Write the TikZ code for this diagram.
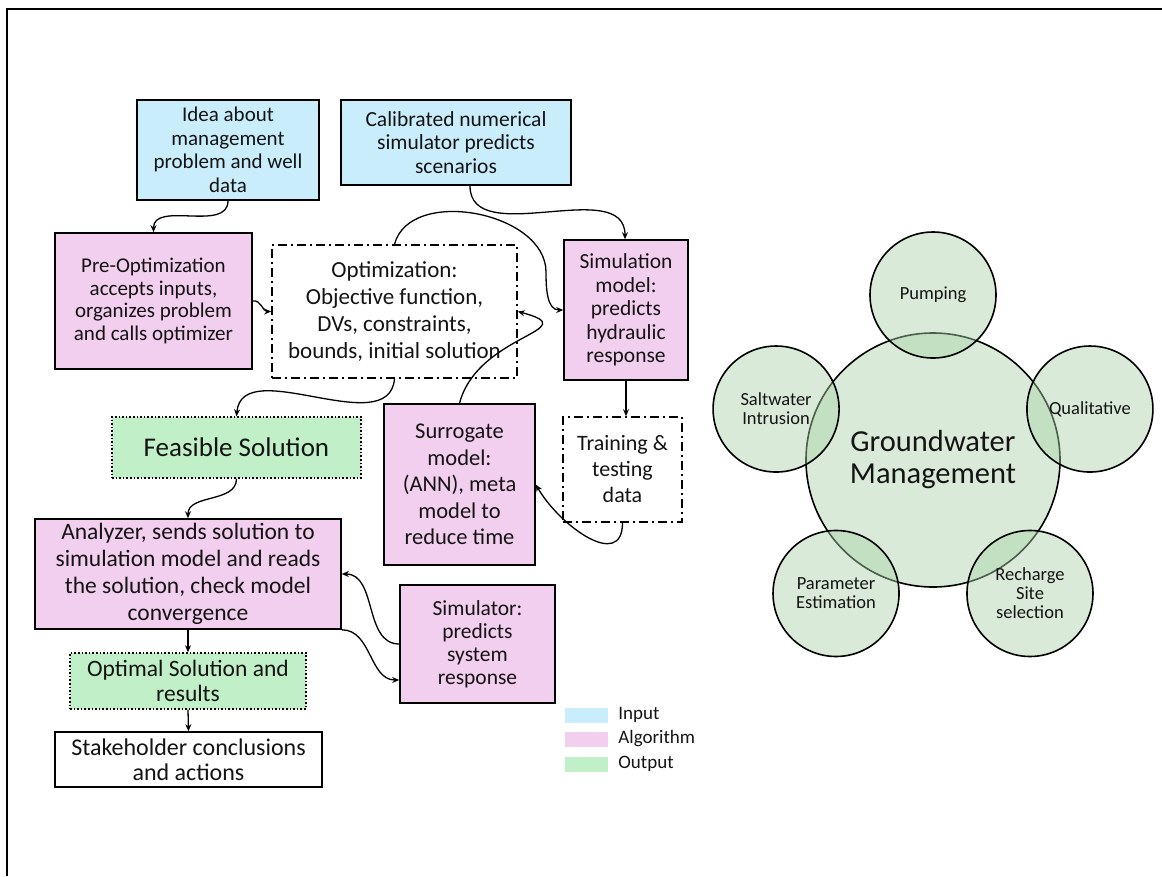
\documentclass[tikz,border=0pt]{standalone}
\usepackage{fontspec}
\setmainfont{Carlito}
\usetikzlibrary{arrows.meta,calc}
\definecolor{cin}{HTML}{CAEDFB}
\definecolor{calg}{HTML}{F2CEEF}
\definecolor{cout}{HTML}{C1F0C8}
\definecolor{cgw}{RGB}{170,210,168}
\newcommand{\fsz}[2]{\fontsize{#1}{#2}\selectfont}
\begin{document}
\begin{tikzpicture}[x=1pt,y=1pt,
 box/.style={draw=black,line width=1.6pt,align=center,inner sep=0pt,text=black!92},
 inbox/.style={box,fill=cin},
 algbox/.style={box,fill=calg},
 outbox/.style={box,fill=cout,dotted,line width=1.4pt},
 ddbox/.style={box,fill=white,dash pattern=on 9pt off 4pt on 2pt off 4pt},
 conn/.style={line width=1.3pt,-{Stealth[length=7pt,width=6pt]}},
 gwc/.style={circle,draw=black,line width=1.6pt,fill=cgw,fill opacity=0.45,text opacity=1,text=black!92,align=center,inner sep=0pt},
 sat/.style={gwc,minimum size=126pt,font=\fsz{18.5}{19}},
 legsw/.style={minimum width=43pt,minimum height=15pt,inner sep=0pt},
 legtx/.style={anchor=west,inner sep=0pt,text=black!92,font=\fsz{19}{22}},
]
\useasboundingbox (0,0) rectangle (1162,-876);
\draw[line width=2pt] (7,-876) -- (7,-9) -- (1162,-9);

% boxes
\node[inbox,minimum width=182pt,minimum height=100pt,font=\fsz{21}{23.5}] (idea) at (228,-150) {Idea about\\management\\problem and well\\data};
\node[inbox,minimum width=230pt,minimum height=85pt,font=\fsz{21.5}{23.5}] (calib) at (456,-142.5) {Calibrated numerical\\simulator predicts\\scenarios};
\node[algbox,minimum width=197pt,minimum height=136pt,font=\fsz{21}{22.5}] (preopt) at (153.5,-301) {Pre-Optimization\\accepts inputs,\\organizes problem\\and calls optimizer};
\node[ddbox,minimum width=245pt,minimum height=133pt,font=\fsz{23}{27}] (optim) at (394.5,-311.5) {Optimization:\\Objective function,\\DVs, constraints,\\bounds, initial solution};
\node[algbox,minimum width=124pt,minimum height=140pt,font=\fsz{21.5}{23.5}] (simmod) at (626,-310) {Simulation\\model:\\predicts\\hydraulic\\response};
\node[ddbox,minimum width=119pt,minimum height=105pt,font=\fsz{22}{26}] (train) at (622.5,-469.5) {Training \&\\testing\\data};
\node[algbox,minimum width=151pt,minimum height=161pt,font=\fsz{22.5}{26.5}] (surr) at (459.5,-484.5) {Surrogate\\model:\\(ANN), meta\\model to\\reduce time};
\node[outbox,minimum width=249pt,minimum height=61pt,font=\fsz{27}{30}] (feas) at (236.5,-447.5) {Feasible Solution};
\node[algbox,minimum width=306pt,minimum height=110pt,font=\fsz{23.5}{27}] (anal) at (188,-574) {Analyzer, sends solution to\\simulation model and reads\\the solution, check model\\convergence};
\node[algbox,minimum width=155pt,minimum height=118pt,font=\fsz{21.5}{23}] (simr) at (477.5,-644) {Simulator:\\predicts\\system\\response};
\node[outbox,minimum width=236pt,minimum height=56pt,font=\fsz{23.5}{25}] (optsol) at (188,-681) {Optimal Solution and\\results};
\node[box,fill=white,minimum width=267pt,minimum height=55pt,font=\fsz{24}{25}] (stake) at (188.5,-759.5) {Stakeholder conclusions\\and actions};

% connectors
\coordinate (k1) at (546,-272);
\draw[conn] (idea.south) to[out=-90,in=90] (preopt.north);
\draw[conn] ([xshift=14pt]calib.south) to[out=-90,in=90] ([xshift=-1pt]simmod.north);
\draw[conn] (optim.north) to[out=75,in=90] (k1) to[out=-90,in=180] (simmod.west);
\draw[conn] (preopt.east) to[out=10,in=180] (optim.west);
\draw[conn] (surr.north) to[out=75,in=-15,looseness=1.7] (optim.east);
\draw[conn] (optim.south) to[out=-95,in=85] (feas.north);
\draw[conn] (simmod.south) -- (simmod.south |- train.north);
\draw[conn] (train.south) to[out=-90,in=-60,looseness=1.3] (surr.east);
\draw[conn] (feas.south) to[out=-90,in=90] (anal.north);
\draw[conn] (anal.south) -- (optsol.north);
\draw[conn] (optsol.south) -- (stake.north);
\draw[conn] (simr.west) to[out=180,in=0] (anal.east);
\draw[conn] (anal.south east) to[out=0,in=180] ([yshift=-36pt]simr.west);

% legend
\node[legsw,fill=cin] (lin) at (586.5,-715) {};
\node[legsw,fill=calg] (lalg) at (586.5,-739) {};
\node[legsw,fill=cout] (lout) at (586.5,-764) {};
\node[legtx] (tin) at ([xshift=10pt]lin.east) {Input};
\node[legtx] (talg) at ([xshift=10pt]lalg.east) {Algorithm};
\node[legtx] (tout) at ([xshift=10pt]lout.east) {Output};

% groundwater management circles
\node[gwc,minimum size=254pt,font=\fsz{30.5}{32}] (gw) at (933,-460) {Groundwater\\Management};
\node[sat] (pump) at ($(gw)+(90:165)$) {Pumping};
\node[sat] (qual) at ($(gw)+(18:165)$) {Qualitative};
\node[sat] (salt) at ($(gw)+(162:165)$) {Saltwater\\Intrusion};
\node[sat] (param) at ($(gw)+(-126:165)$) {Parameter\\Estimation};
\node[sat] (rech) at ($(gw)+(-54:165)$) {Recharge\\Site\\selection};
\end{tikzpicture}
\end{document}
